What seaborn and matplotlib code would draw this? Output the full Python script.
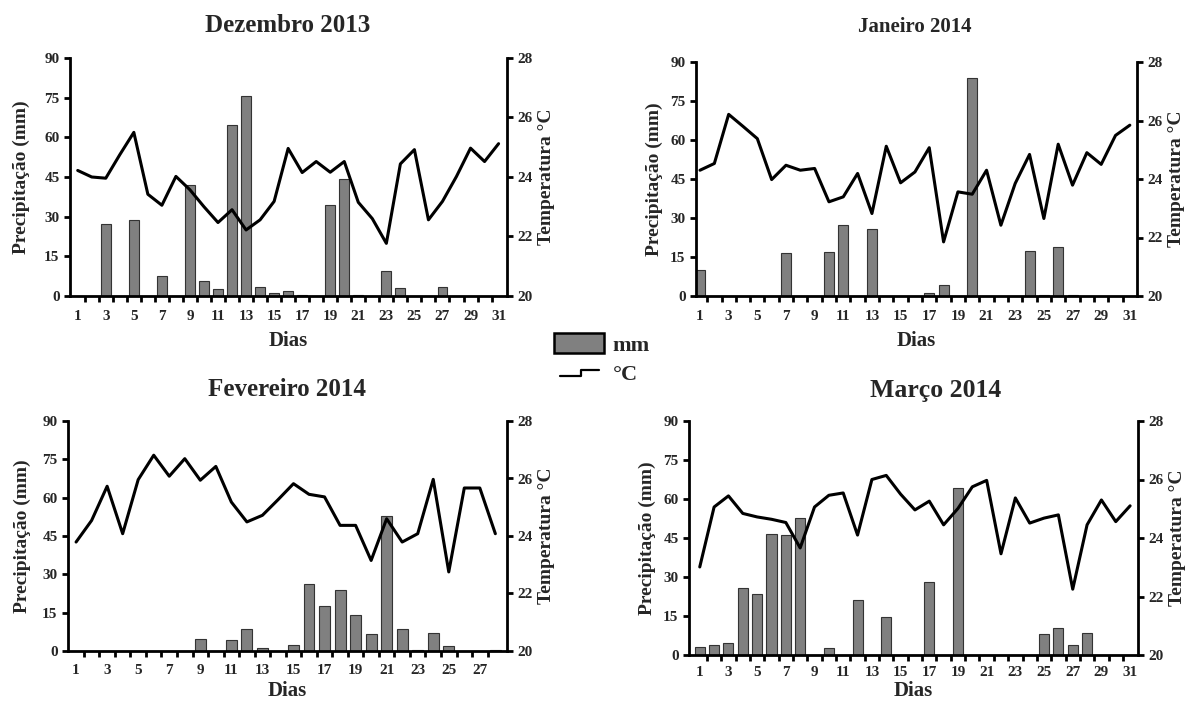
import numpy as np
import pandas as pd
import seaborn as sns
import matplotlib
matplotlib.use("Agg")
import matplotlib.pyplot as plt
from matplotlib.patches import Patch
from matplotlib.lines import Line2D
from matplotlib.legend_handler import HandlerBase

# ---------------- data ----------------
dez_precip = [0, 0, 27.3, 0, 28.7, 0, 7.6, 0, 41.9, 5.8, 2.7, 64.6, 75.8, 3.4, 1.1, 1.9,
              0.5, 0, 34.5, 44.3, 0.4, 0, 9.5, 3.0, 0, 0, 3.4, 0, 0, 0, 0]
dez_temp = [24.22, 24.0, 23.96, 24.75, 25.5, 23.42, 23.05, 24.02, 23.57, 23.0, 22.47, 22.9,
            22.22, 22.56, 23.18, 24.96, 24.15, 24.52, 24.16, 24.52, 23.15, 22.6, 21.77, 24.44,
            24.92, 22.56, 23.18, 24.02, 24.97, 24.52, 25.12]

jan_precip = [10.0, 0, 0, 0, 0, 0, 16.6, 0, 0, 16.9, 27.5, 0, 25.7, 0, 0, 0, 1.0, 4.2, 0,
              84.0, 0, 0, 0, 17.3, 0.2, 18.8, 0.3, 0, 0, 0, 0]
jan_temp = [24.30, 24.53, 26.21, 25.80, 25.38, 23.98, 24.47, 24.30, 24.36, 23.22, 23.39, 24.19,
            22.82, 25.12, 23.87, 24.24, 25.07, 21.85, 23.56, 23.48, 24.30, 22.42, 23.85, 24.84,
            22.65, 25.19, 23.79, 24.90, 24.50, 25.49, 25.84]

fev_precip = [0, 0, 0, 0, 0, 0, 0, 0, 4.7, 0, 4.3, 8.7, 1.3, 0, 2.5, 26.1, 17.7, 24.0, 14.2,
              6.8, 52.9, 8.7, 0.5, 7.2, 2.1, 0, 0, 0.5]
fev_temp = [23.79, 24.54, 25.73, 24.08, 25.96, 26.81, 26.08, 26.69, 25.94, 26.42, 25.18, 24.49,
            24.72, 25.26, 25.82, 25.45, 25.36, 24.37, 24.37, 23.15, 24.60, 23.79, 24.08, 25.97,
            22.75, 25.67, 25.67, 24.08]

mar_precip = [2.9, 3.7, 4.5, 25.6, 23.3, 46.5, 46.1, 52.6, 0, 2.6, 0, 21.1, 0, 14.5, 0, 0,
              27.9, 0, 64.4, 0, 0, 0, 0, 0, 7.9, 10.4, 3.8, 8.6, 0, 0, 0]
mar_temp = [23.01, 25.06, 25.44, 24.84, 24.72, 24.64, 24.53, 23.66, 25.06, 25.46, 25.54, 24.10,
            26.0, 26.14, 25.5, 24.96, 25.26, 24.45, 25.01, 25.75, 25.97, 23.46, 25.37, 24.51,
            24.68, 24.79, 22.25, 24.45, 25.30, 24.56, 25.10]

titles = ["Dezembro 2013", "Janeiro 2014", "Fevereiro 2014", "Março 2014"]
precip_ticks = [0, 15, 30, 45, 60, 75, 90]
temp_ticks = [20, 22, 24, 26, 28]

# ---------------- style ----------------
sns.set_style("ticks")
plt.rcParams["font.family"] = ["Liberation Serif", "DejaVu Serif"]
plt.rcParams["font.weight"] = "bold"
plt.rcParams["axes.labelweight"] = "bold"

W, H = 1199, 704
fig = plt.figure(figsize=(W / 100, H / 100), dpi=100)


def rect(x0, x1, ytop, ybot):
    return [x0 / W, 1 - ybot / H, (x1 - x0) / W, (ybot - ytop) / H]


panels = [
    dict(p=dez_precip, t=dez_temp, rect=rect(70, 507, 58, 296), xlim=(0.45, 31.6),
         title=titles[0], tpos=(288, 25), tsize=18, lpad=10, tpad=10, xpad=6),
    dict(p=jan_precip, t=jan_temp, rect=rect(696, 1137, 62, 296), xlim=(0.72, 31.5),
         title=titles[1], tpos=(915, 27), tsize=15, lpad=5, tpad=10, xpad=6),
    dict(p=fev_precip, t=fev_temp, rect=rect(68, 507, 421, 651), xlim=(0.48, 28.75),
         title=titles[2], tpos=(287, 389), tsize=18, lpad=8, tpad=9, xpad=3),
    dict(p=mar_precip, t=mar_temp, rect=rect(689, 1138, 421, 655), xlim=(0.25, 31.55),
         title=titles[3], tpos=(936, 391), tsize=18.5, lpad=5, tpad=8, xpad=1),
]

bar_color = "#808080"
for pn in panels:
    n = len(pn["p"])
    days = np.arange(1, n + 1)
    df = pd.DataFrame({"dia": days, "mm": pn["p"]})
    ax = fig.add_axes(pn["rect"])
    sns.barplot(data=df, x="dia", y="mm", native_scale=True, color=bar_color,
                saturation=1, edgecolor="#333333", linewidth=0.8, width=0.7,
                errorbar=None, ax=ax)
    ax2 = ax.twinx()
    sns.lineplot(x=days, y=pn["t"], ax=ax2, color="black", linewidth=2.2)

    ax.set_xlim(*pn["xlim"])
    ax.set_ylim(0, 90)
    ax.set_yticks(precip_ticks)
    ax2.set_ylim(20, 28)
    ax2.set_yticks(temp_ticks)

    odd = np.arange(1, n + 1, 2)
    ax.set_xticks(odd)
    ax.set_xticklabels([str(d) for d in odd])
    ax.set_xticks(np.arange(1.5, n, 1), minor=True)
    ax.tick_params(axis="x", which="major", length=0, pad=pn["tpad"], labelsize=11)
    ax.tick_params(axis="x", which="minor", length=4, width=2, direction="out", color="black")
    ax.tick_params(axis="y", which="major", length=4, width=2, direction="out",
                   labelsize=11, color="black")
    ax2.tick_params(axis="y", which="major", length=4, width=2, direction="out",
                    labelsize=11, color="black")

    for s in ["top", "right"]:
        ax.spines[s].set_visible(False)
    for s in ["top", "left", "bottom"]:
        ax2.spines[s].set_visible(False)
    for s in ["left", "bottom"]:
        ax.spines[s].set_linewidth(2)
        ax.spines[s].set_color("black")
    ax2.spines["right"].set_linewidth(2)
    ax2.spines["right"].set_color("black")

    ax.set_xlabel("Dias", fontsize=15, labelpad=pn["xpad"])
    ax.set_ylabel("Precipitação (mm)", fontsize=14, labelpad=pn["lpad"])
    ax2.set_ylabel("Temperatura °C", fontsize=14, labelpad=4)

    fig.text(pn["tpos"][0] / W, 1 - pn["tpos"][1] / H, pn["title"], ha="center",
             va="center", fontsize=pn["tsize"], fontweight="bold")


class StepHandler(HandlerBase):
    def create_artists(self, legend, orig_handle, xdescent, ydescent, width, height,
                       fontsize, trans):
        xs = np.array([0.12, 0.55, 0.55, 0.9]) * width - xdescent
        ys = np.array([0.3, 0.3, 0.62, 0.62]) * height - ydescent
        ln = Line2D(xs, ys, color="black", linewidth=1.6, transform=trans)
        return [ln]


handles = [Patch(facecolor=bar_color, edgecolor="black", linewidth=1.8),
           Line2D([0], [0], color="black")]
fig.legend(handles, ["mm", "°C"], loc="center", bbox_to_anchor=(602 / W, 1 - 359 / H),
           frameon=False, handlelength=2.25, handleheight=1.0,
           handletextpad=0.4, labelspacing=0.27, borderpad=0.2,
           handler_map={Line2D: StepHandler()},
           prop={"weight": "bold", "size": 16})

fig.savefig("out.png", dpi=100)
